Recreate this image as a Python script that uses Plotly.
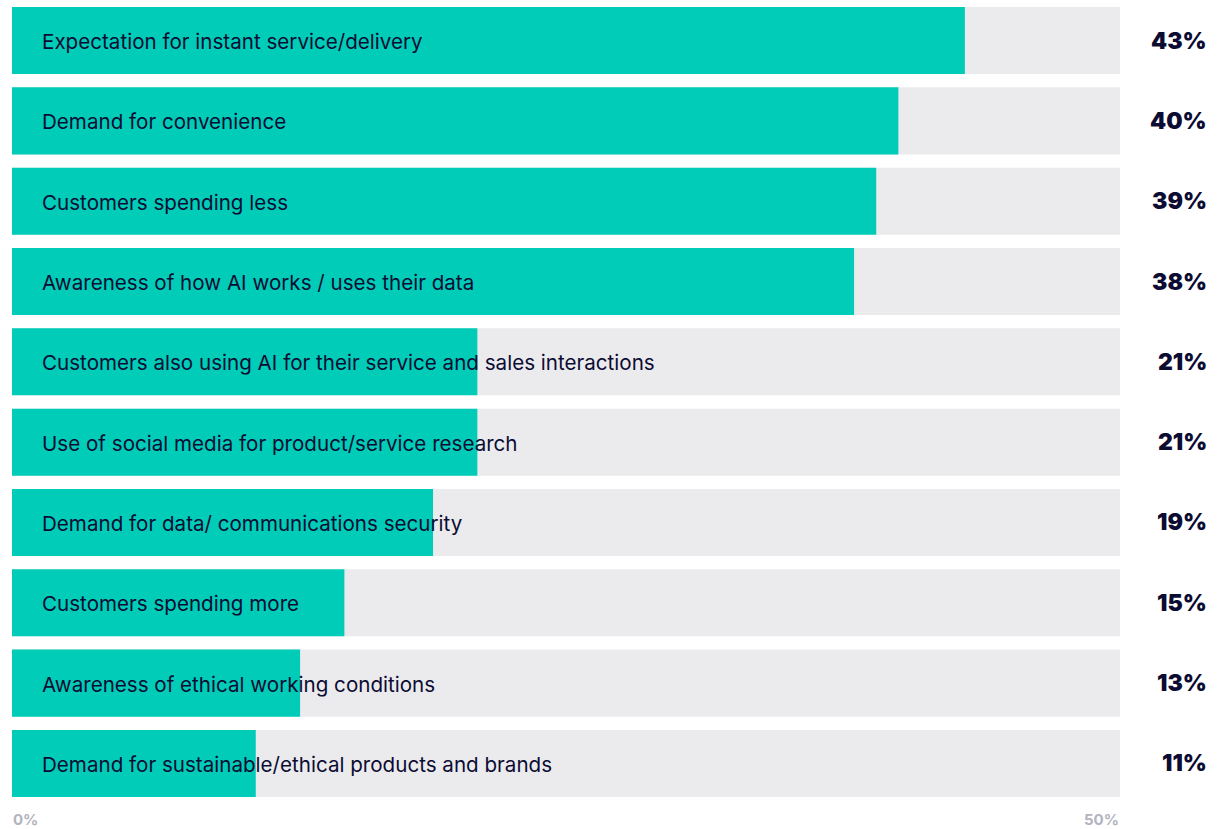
import plotly.graph_objects as go

# Survey data: share of respondents citing each driver
categories = [
    "Expectation for instant service/delivery",
    "Demand for convenience",
    "Customers spending less",
    "Awareness of how AI works / uses their data",
    "Customers also using AI for their service and sales interactions",
    "Use of social media for product/service research",
    "Demand for data/ communications security",
    "Customers spending more",
    "Awareness of ethical working conditions",
    "Demand for sustainable/ethical products and brands",
]
values = [43, 40, 39, 38, 21, 21, 19, 15, 13, 11]
axis_max = 50
tick_labels = ["0%", "50%"]

TEAL = "#00CCB8"
TRACK = "#EBEBED"
INK = "#0C0C33"
MUTED = "#B3B3BF"

W, H = 1223, 829
ML, MR, MT, MB = 12, 103, 7, 32
bar_w = 0.835
pos = list(range(len(categories)))

fig = go.Figure()
# Grey track showing the full 0-50% scale
fig.add_trace(go.Bar(
    x=[axis_max] * len(categories), y=pos, orientation="h",
    width=bar_w, marker=dict(color=TRACK, line=dict(width=0)),
    hoverinfo="skip", showlegend=False,
))
# Teal value bars
fig.add_trace(go.Bar(
    x=values, y=pos, orientation="h",
    width=bar_w, marker=dict(color=TEAL, line=dict(width=0)),
    customdata=categories,
    hovertemplate="%{customdata}: %{x}%<extra></extra>",
    showlegend=False,
))

annotations = []
for i, (cat, v) in enumerate(zip(categories, values)):
    annotations.append(dict(
        x=0, xref="paper", y=i, yref="y",
        text=cat, showarrow=False, xanchor="left", yanchor="middle",
        xshift=29, yshift=-1, borderpad=0,
        font=dict(family="Inter, sans-serif", size=20.6, color=INK),
    ))
    annotations.append(dict(
        x=1, xref="paper", y=i, yref="y",
        text=f"{v}%", showarrow=False, xanchor="right", yanchor="middle",
        xshift=(1208 - (W - MR)), borderpad=0,
        font=dict(family="Inter, sans-serif", size=23, color=INK, weight=900),
    ))

# Axis end labels
for xpos, anchor, label in [(0, "left", tick_labels[0]), (1, "right", tick_labels[1])]:
    annotations.append(dict(
        x=xpos, xref="paper", y=0, yref="paper", yshift=-22, borderpad=0,
        text=label, showarrow=False, xanchor=anchor, yanchor="middle",
        font=dict(family="Inter, sans-serif", size=15, color=MUTED, weight=700),
    ))

fig.update_layout(
    width=W, height=H,
    margin=dict(l=ML, r=MR, t=MT, b=MB, pad=0),
    paper_bgcolor="white", plot_bgcolor="white",
    barmode="overlay",
    xaxis=dict(range=[0, axis_max], showgrid=False, zeroline=False,
               showticklabels=False, fixedrange=True),
    yaxis=dict(range=[len(categories) - 1 + bar_w / 2, -bar_w / 2],
               showgrid=False, zeroline=False, showticklabels=False,
               fixedrange=True),
    annotations=annotations,
)

fig.write_html("out.html")
